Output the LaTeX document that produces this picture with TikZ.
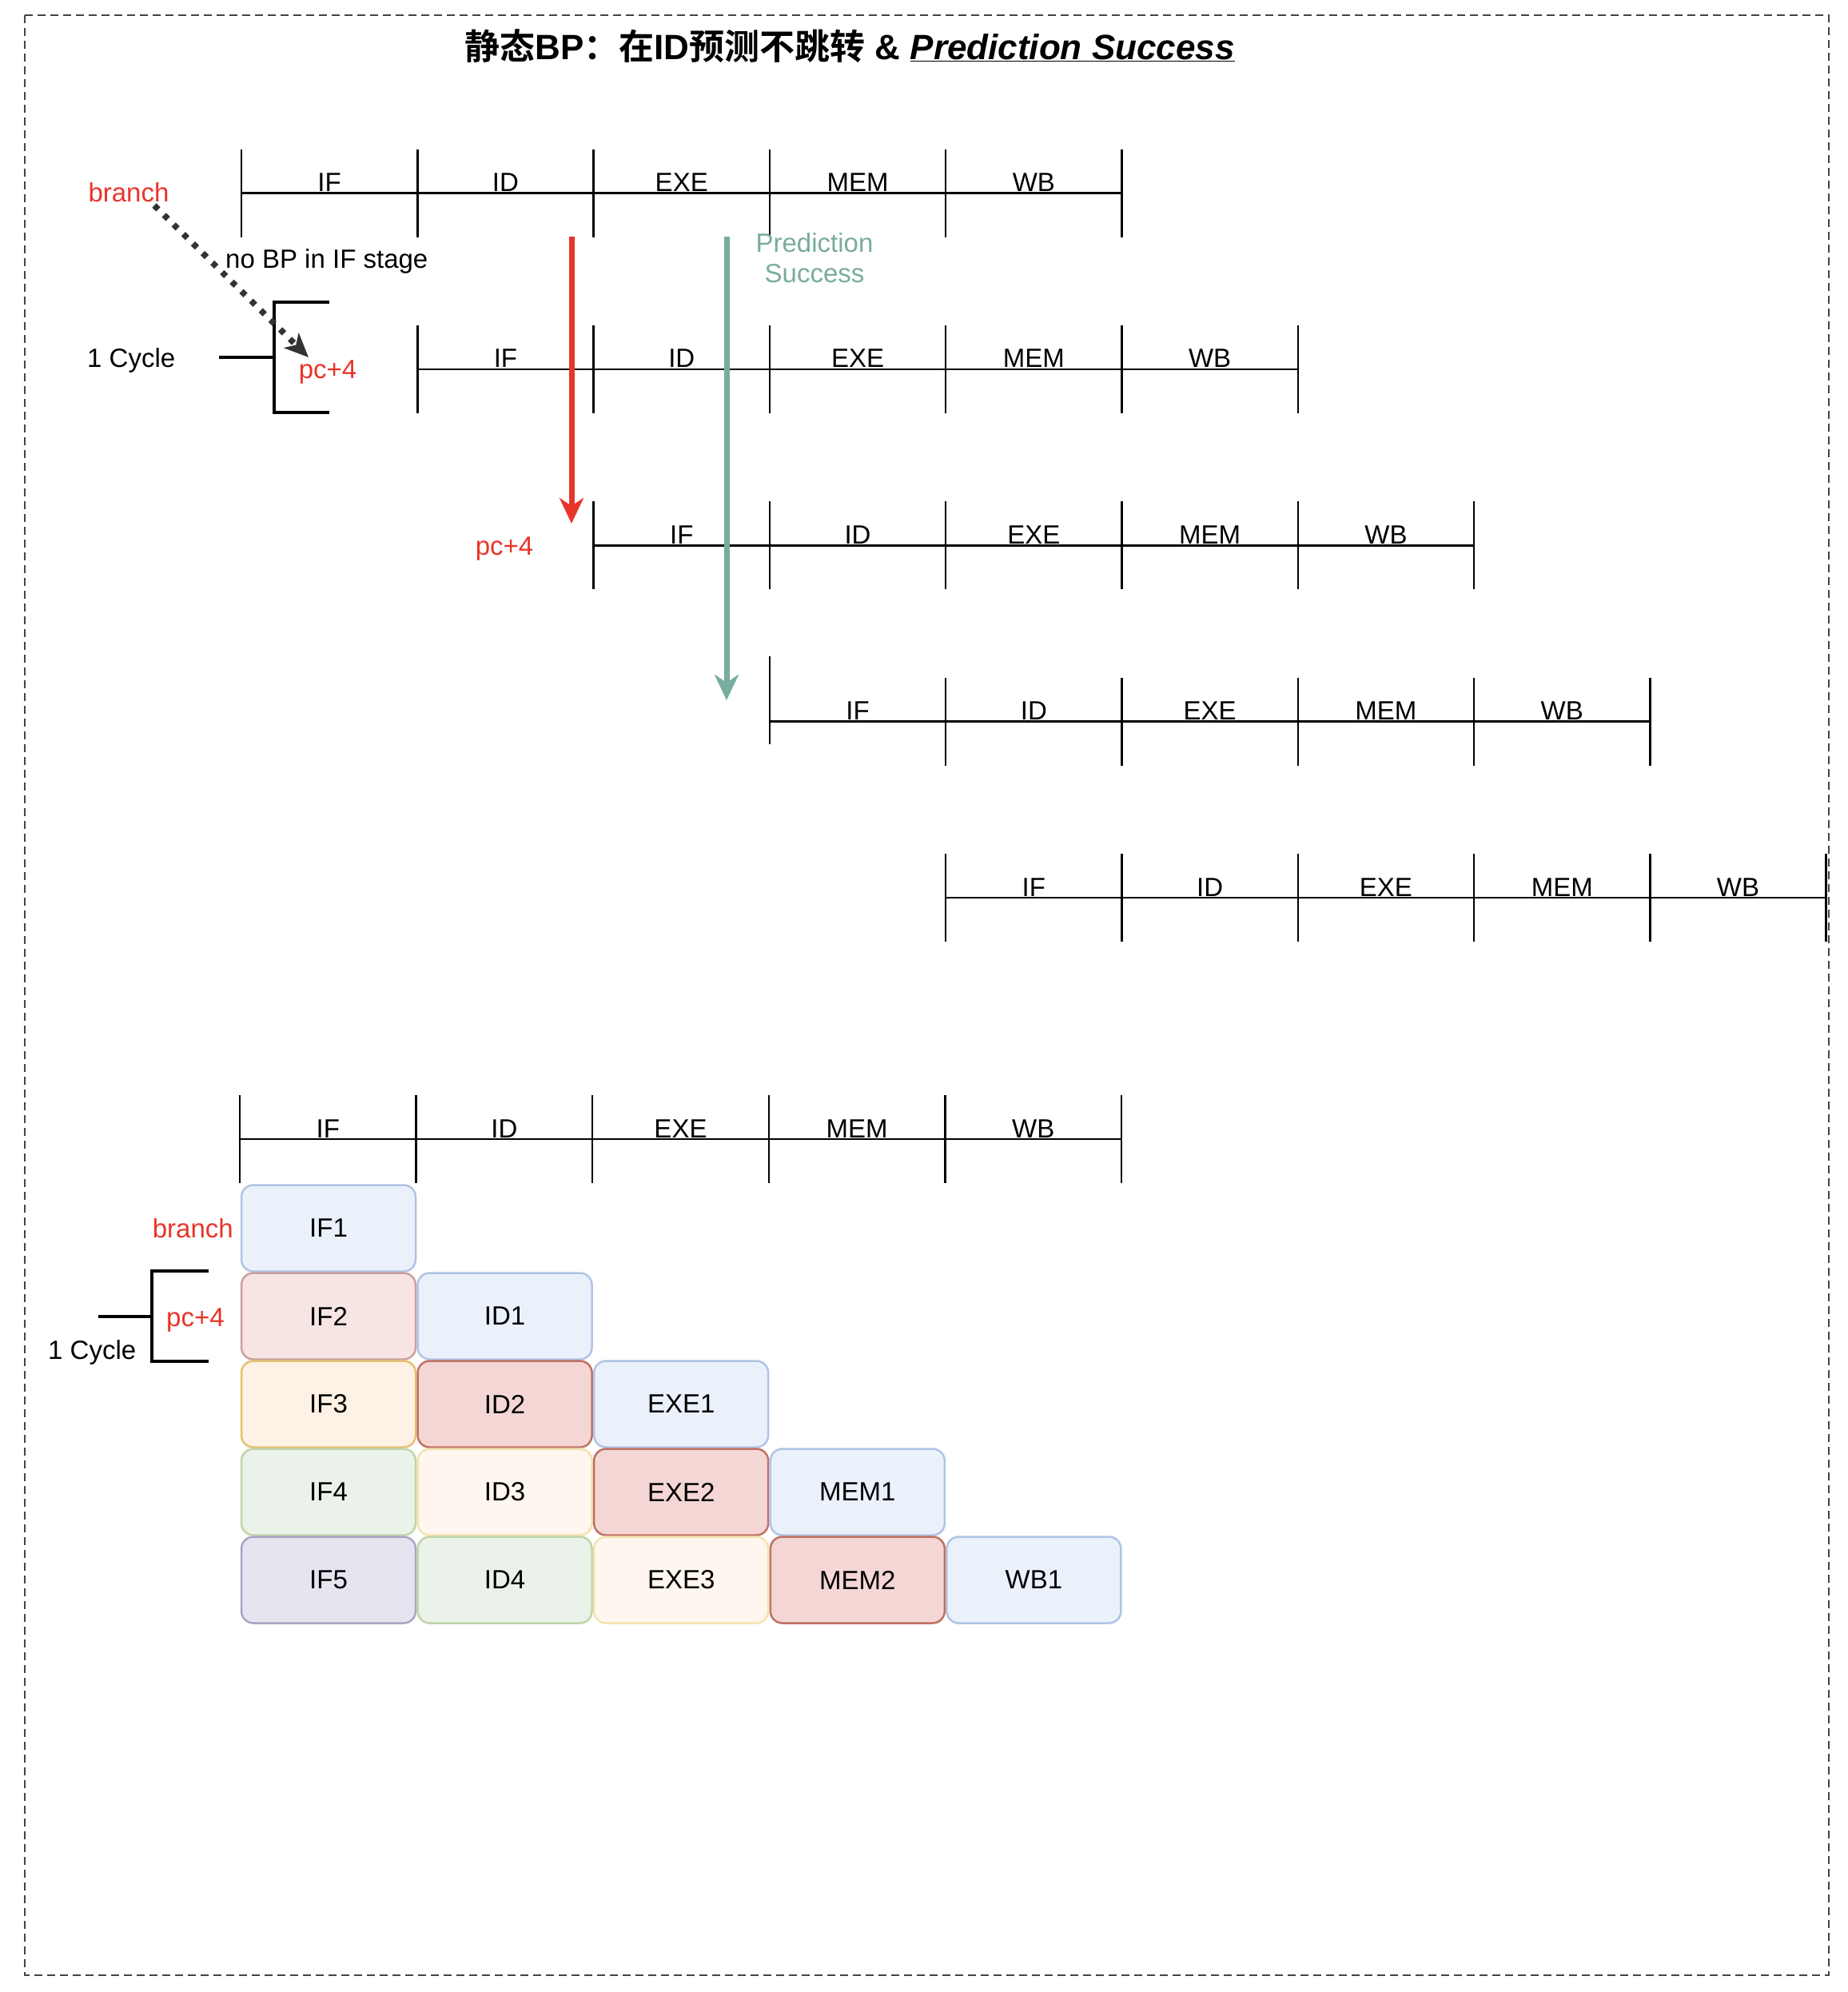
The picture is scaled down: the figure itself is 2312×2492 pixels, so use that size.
\documentclass[tikz,border=0pt]{standalone}
\usepackage{fontspec}
\setmainfont{Liberation Sans}
\newfontfamily\cjk{Noto Sans CJK SC}[BoldFont={Noto Sans CJK SC Bold}]
\usetikzlibrary{arrows.meta}
\definecolor{redc}{HTML}{E8352A}
\definecolor{tealc}{HTML}{78AC9E}
\definecolor{dotc}{HTML}{333333}
\definecolor{bordc}{HTML}{444444}
\definecolor{blueF}{HTML}{EAF1FB}\definecolor{blueD}{HTML}{B0C4E4}
\definecolor{pinkLF}{HTML}{F6E5E3}\definecolor{pinkLD}{HTML}{CBA09E}
\definecolor{pinkSF}{HTML}{F4D7D5}\definecolor{pinkSD}{HTML}{C07163}
\definecolor{orF}{HTML}{FDF2E5}\definecolor{orD}{HTML}{E5C070}
\definecolor{crF}{HTML}{FEF6EF}\definecolor{crD}{HTML}{F3E2B0}
\definecolor{grF}{HTML}{EBF2E9}\definecolor{grD}{HTML}{BED5A8}
\definecolor{puF}{HTML}{E6E4EE}\definecolor{puD}{HTML}{A9A5C2}
\begin{document}
\begin{tikzpicture}[x=1pt,y=-1pt,
  lbl/.style={font=\fontsize{33}{38}\selectfont, inner sep=0pt},
  stg/.style={lbl, anchor=base},
  pipe/.style={line width=2.5pt, black},
  brk/.style={line width=4.5pt, black},
  cell/.style={lbl, rounded corners=15pt, line width=2.5pt, minimum width=218pt, minimum height=108pt},
  cblue/.style={cell, fill=blueF, draw=blueD},
  cpinkl/.style={cell, fill=pinkLF, draw=pinkLD},
  cpinks/.style={cell, fill=pinkSF, draw=pinkSD},
  corange/.style={cell, fill=orF, draw=orD},
  ccream/.style={cell, fill=crF, draw=crD},
  cgreen/.style={cell, fill=grF, draw=grD},
  cpurple/.style={cell, fill=puF, draw=puD},
  redtxt/.style={lbl, text=redc},
  bigarrow/.style={line width=7pt, -{Stealth[length=32pt,width=30pt,inset=10pt]}}
]
\useasboundingbox (0,0) rectangle (2312,2492);
\draw[line width=2.5pt, dash pattern=on 10pt off 6pt, bordc] (31,19) rectangle (2288,2471);

% title
\node[anchor=base, inner sep=0pt, font=\fontsize{44}{52}\selectfont\bfseries] (title) at (1063,74)
  {{\cjk 静态}BP{\cjk ：在}ID{\cjk 预测不跳转} \& \underline{\itshape Prediction Success}};

% top pipelines
\foreach \r in {0,...,4}{
  \pgfmathsetmacro\xo{302+220.3*\r}
  \pgfmathsetmacro\yl{241.5+220.4*\r}
  \pgfmathsetmacro\off{(\r==3)*(-27)}
  \draw[pipe] (\xo,\yl) -- ++(1101.5,0);
  \draw[pipe] (\xo,{\yl-55+\off}) -- ++(0,110);
  \foreach \k in {1,...,5} \draw[pipe] ({\xo+220.3*\k},{\yl-55}) -- ++(0,110);
  \foreach \n [count=\k from 0] in {IF,ID,EXE,MEM,WB}
    \node[stg] (t\r-\k) at ({\xo+220.3*(\k+0.5)},{\yl-2}) {\n};
}

% bottom header
\draw[pipe] (300,1425) -- ++(1103,0);
\foreach \k in {0,...,5} \draw[pipe] ({300+220.6*\k},1370) -- ++(0,110);
\foreach \n [count=\k from 0] in {IF,ID,EXE,MEM,WB}
  \node[stg] (b-\k) at ({300+220.6*(\k+0.5)},1423) {\n};

% upper annotations
\node[redtxt, anchor=base] (branchT) at (161,252) {branch};
\node[lbl, anchor=base west] (nobp) at (282,335) {no BP in IF stage};
\node[lbl, anchor=base west] (cyc1) at (109,459) {1 Cycle};
\node[redtxt, anchor=base] (pc1) at (410,473) {pc+4};
\node[redtxt, anchor=base] (pc2) at (631,694) {pc+4};
\node[lbl, text=tealc, align=center] (pred) at (1019,323) {Prediction\\Success};

\draw[brk] (274,447) -- (343,447);
\draw[brk] (412,378) -- (343,378) -- (343,516) -- (412,516);

\coordinate (da0) at (193,257);
\coordinate (da1) at (386,447);
\draw[line width=7.5pt, dotc, dash pattern=on 7pt off 10pt, -{Stealth[length=30pt,width=26pt,inset=8pt]}] (da0) -- (da1);

\coordinate (ra0) at (715,296);
\coordinate (ra1) at (715,655);
\draw[bigarrow, redc] (ra0) -- (ra1);
\coordinate (ta0) at (909,296);
\coordinate (ta1) at (909,876);
\draw[bigarrow, tealc] (ta0) -- (ta1);

% bottom annotations
\node[redtxt, anchor=base east] (branchB) at (292,1548) {branch};
\node[redtxt, anchor=base west] (pcB) at (208,1659) {pc+4};
\node[lbl, anchor=base west] (cycB) at (60,1700) {1 Cycle};
\draw[brk] (123,1647) -- (190,1647);
\draw[brk] (261,1590) -- (190,1590) -- (190,1703) -- (261,1703);

% cells
\node[cblue]   (if1)  at (411,1536.5) {IF1};
\node[cpinkl]  (if2)  at (411,1646.5) {IF2};
\node[cblue]   (id1)  at (631.6,1646.5) {ID1};
\node[corange] (if3)  at (411,1756.5) {IF3};
\node[cpinks]  (id2)  at (631.6,1756.5) {ID2};
\node[cblue]   (exe1) at (852.2,1756.5) {EXE1};
\node[cgreen]  (if4)  at (411,1866.5) {IF4};
\node[ccream]  (id3)  at (631.6,1866.5) {ID3};
\node[cpinks]  (exe2) at (852.2,1866.5) {EXE2};
\node[cblue]   (mem1) at (1072.8,1866.5) {MEM1};
\node[cpurple] (if5)  at (411,1976.5) {IF5};
\node[cgreen]  (id4)  at (631.6,1976.5) {ID4};
\node[ccream]  (exe3) at (852.2,1976.5) {EXE3};
\node[cpinks]  (mem2) at (1072.8,1976.5) {MEM2};
\node[cblue]   (wb1)  at (1293.4,1976.5) {WB1};
\end{tikzpicture}
\end{document}
